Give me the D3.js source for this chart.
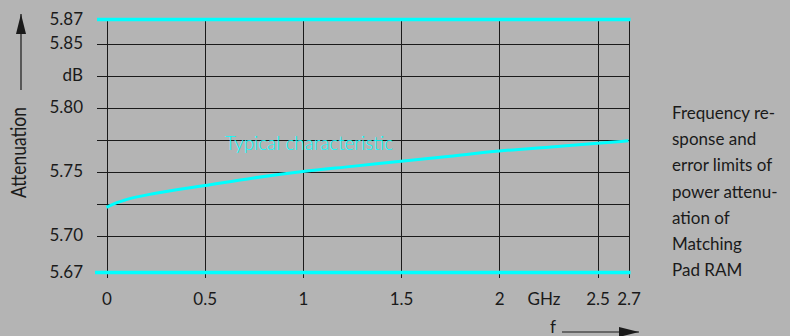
<!DOCTYPE html>
<html>
<head>
<meta charset="utf-8">
<script src="https://cdn.jsdelivr.net/npm/d3@7"></script>
<style>
  body { margin: 0; background: #b4b4b4; }
  svg { display: block; font-family: Lato, "Open Sans", sans-serif; }
</style>
</head>
<body>
<div id="chart"></div>
<script>
// frequency in GHz and typical attenuation in dB
const freq = [0, 0.05, 0.1, 0.25, 0.5, 0.75, 1, 1.25, 1.5, 1.75, 2, 2.25, 2.5, 2.7];
const atten = [5.722, 5.7255, 5.728, 5.733, 5.739, 5.745, 5.750, 5.754, 5.758, 5.762, 5.766, 5.769, 5.772, 5.774];

const xTicks = [0, 0.5, 1, 1.5, 2, 2.5, 2.7];
const xTickLabels = ["0", "0.5", "1", "1.5", "2", "2.5", "2.7"];
const yGrid = [5.70, 5.725, 5.75, 5.775, 5.80, 5.825, 5.85];
const yTicks = [5.67, 5.70, 5.75, 5.80, 5.825, 5.85, 5.87];
const yTickLabels = ["5.67", "5.70", "5.75", "5.80", "dB", "5.85", "5.87"];
const limits = [5.67, 5.87];
const note = ["Frequency re-", "sponse and", "error limits of", "power attenu-", "ation of", "Matching", "Pad RAM"];

const width = 790, height = 336;
const cyan = "#00ffff", ink = "#1a1a1a";

const svg = d3.select("#chart")
    .append("svg")
    .attr("width", width)
    .attr("height", height);

svg.append("rect")
    .attr("width", width)
    .attr("height", height)
    .attr("fill", "#b4b4b4");

// the printed axes are not quite linear at their ends
const x = d3.scaleLinear()
    .domain([0, 2.5, 2.7])
    .range([106.5, 597.5, 628.5]);
const y = d3.scaleLinear()
    .domain([5.67, 5.70, 5.85, 5.87])
    .range([272.5, 235.5, 43.5, 19.5]);

// horizontal grid
const gy = svg.append("g")
    .attr("transform", `translate(${x(2.7)},0)`)
    .call(d3.axisLeft(y).tickValues(yGrid).tickSize(x(2.7) - 97).tickFormat(""));
gy.select(".domain").remove();
gy.selectAll("line")
    .attr("stroke", ink)
    .attr("stroke-width", 1)
    .attr("shape-rendering", "crispEdges");

// vertical grid
const gx = svg.append("g")
    .attr("transform", "translate(0,20)")
    .call(d3.axisBottom(x).tickValues(xTicks).tickSize(258).tickFormat(""));
gx.select(".domain").remove();
gx.selectAll("line")
    .attr("stroke", ink)
    .attr("stroke-width", 1)
    .attr("shape-rendering", "crispEdges");

// error limits
svg.selectAll(".limit")
    .data(limits)
    .join("line")
    .attr("class", "limit")
    .attr("x1", (d, i) => i === 0 ? 95 : 97)
    .attr("x2", x(2.7) + 2)
    .attr("y1", d => y(d))
    .attr("y2", d => y(d))
    .attr("stroke", cyan)
    .attr("stroke-width", 3.5);

// typical curve
const line = d3.line()
    .x((d, i) => x(freq[i]))
    .y(d => y(d))
    .curve(d3.curveMonotoneX);

svg.append("path")
    .attr("d", line(atten))
    .attr("fill", "none")
    .attr("stroke", cyan)
    .attr("stroke-width", 3);

svg.append("text")
    .attr("x", 225)
    .attr("y", 150)
    .attr("fill", cyan)
    .attr("font-size", 19)
    .attr("font-weight", 300)
    .attr("textLength", 168)
    .attr("lengthAdjust", "spacingAndGlyphs")
    .text("Typical characteristic");

// y tick labels
const yl = svg.append("g")
    .attr("transform", "translate(83,0)")
    .call(d3.axisLeft(y).tickValues(yTicks).tickSize(0).tickPadding(0)
        .tickFormat((d, i) => yTickLabels[i]));
yl.select(".domain").remove();
yl.selectAll("text")
    .attr("fill", ink)
    .attr("font-size", 17)
    .attr("font-family", "Lato, sans-serif");

// x tick labels
const xl = svg.append("g")
    .attr("transform", "translate(0,293)")
    .call(d3.axisBottom(x).tickValues(xTicks).tickSize(0).tickPadding(0)
        .tickFormat((d, i) => xTickLabels[i]));
xl.select(".domain").remove();
xl.selectAll("text")
    .attr("fill", ink)
    .attr("font-size", 17)
    .attr("font-family", "Lato, sans-serif");

svg.append("text")
    .attr("x", 544)
    .attr("y", 305)
    .attr("text-anchor", "middle")
    .attr("fill", ink)
    .attr("font-size", 17)
    .text("GHz");

// axis titles with arrows
const defs = svg.append("defs");
defs.append("marker")
    .attr("id", "arrow")
    .attr("viewBox", "0 0 20 10")
    .attr("refX", 20)
    .attr("refY", 5)
    .attr("markerWidth", 20)
    .attr("markerHeight", 10)
    .attr("markerUnits", "userSpaceOnUse")
    .attr("orient", "auto")
    .append("path")
    .attr("d", "M0,0 L20,5 L0,10 Z")
    .attr("fill", ink);

svg.append("line")
    .attr("x1", 21).attr("y1", 90)
    .attr("x2", 21).attr("y2", 14)
    .attr("stroke", ink)
    .attr("stroke-width", 1.2)
    .attr("marker-end", "url(#arrow)");

svg.append("text")
    .attr("transform", "translate(26,198) rotate(-90)")
    .attr("fill", ink)
    .attr("font-size", 21)
    .attr("textLength", 91)
    .attr("lengthAdjust", "spacingAndGlyphs")
    .text("Attenuation");

svg.append("text")
    .attr("x", 553)
    .attr("y", 333)
    .attr("text-anchor", "middle")
    .attr("fill", ink)
    .attr("font-size", 17)
    .text("f");

svg.append("line")
    .attr("x1", 562).attr("y1", 332)
    .attr("x2", 639).attr("y2", 332)
    .attr("stroke", ink)
    .attr("stroke-width", 1.2)
    .attr("marker-end", "url(#arrow)");

// side note
svg.append("g")
    .selectAll("text")
    .data(note)
    .join("text")
    .attr("x", 672)
    .attr("y", (d, i) => 119 + i * 26.2)
    .attr("fill", ink)
    .attr("font-size", 17)
    .text(d => d);
</script>
</body>
</html>
